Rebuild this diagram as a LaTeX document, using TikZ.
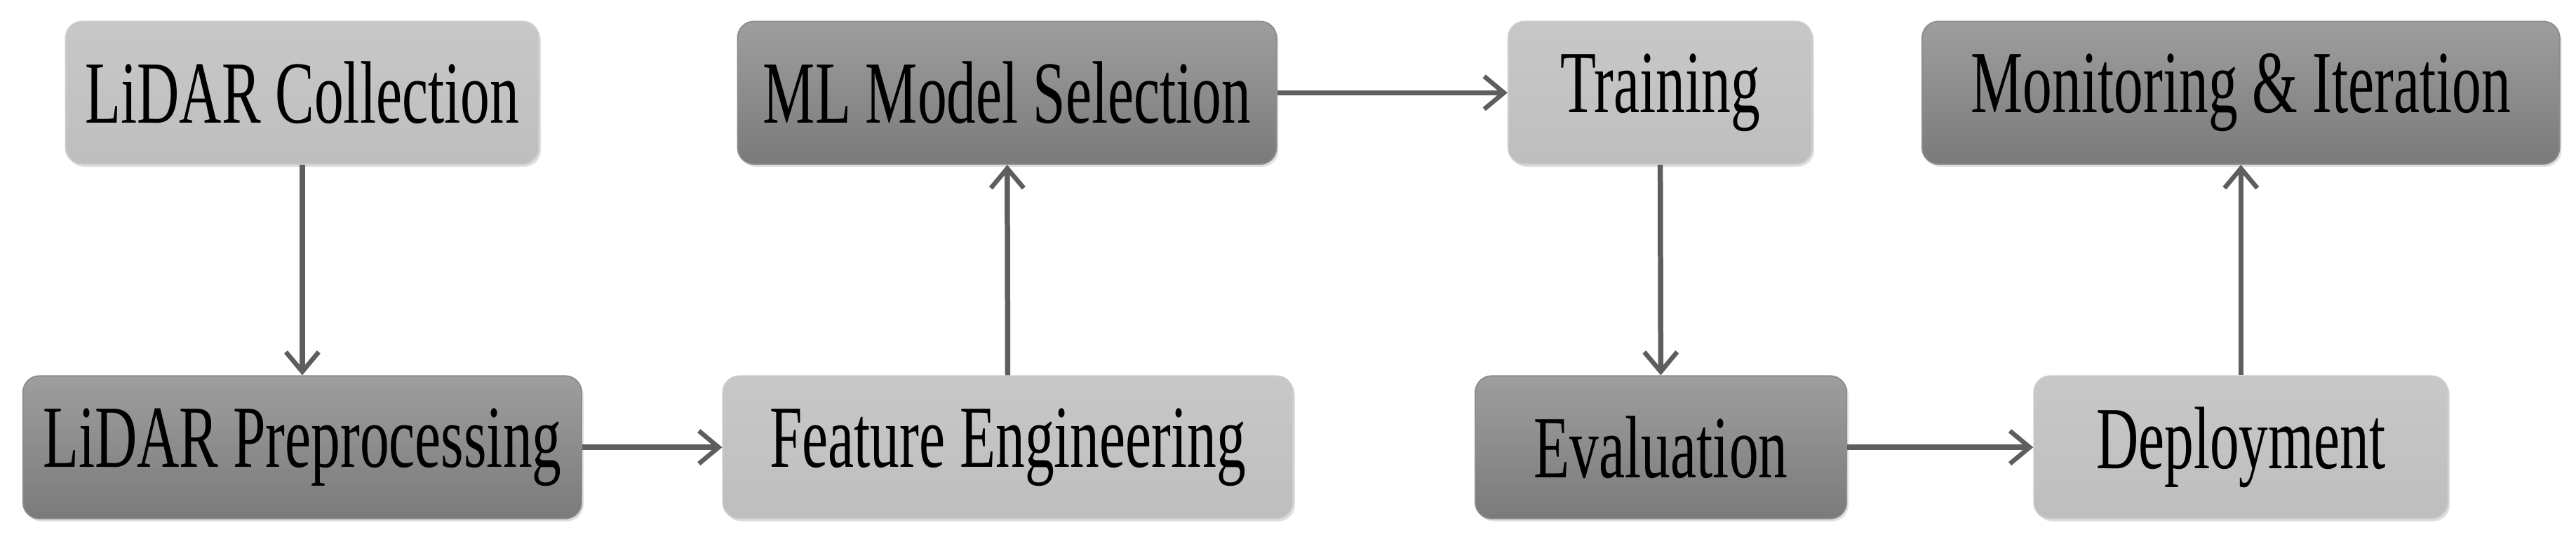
\documentclass[tikz,border=0pt]{standalone}
\usepackage{fontspec}
\setmainfont{Liberation Serif}[FakeStretch=0.66]
\usetikzlibrary{arrows.meta,shadows}
\definecolor{arr}{HTML}{5E5E5E}
\begin{document}
\begin{tikzpicture}[x=0.5pt,y=-0.5pt,
  box/.style={rounded corners=5pt, minimum height=43.5pt, inner sep=0pt, font=\fontsize{27}{30}\selectfont,
     drop shadow={shadow xshift=0.6pt,shadow yshift=-0.8pt,opacity=0.25}},
  light/.style={box, top color=gray!35!white!95!black, bottom color=gray!38!white!92!black, draw=gray!40},
  dark/.style={box, top color=black!38, bottom color=black!52, draw=black!45},
  ar/.style={draw=arr, line width=1.6pt, -{Straight Barb[length=6pt,width=10pt,line width=1.4pt]}}]
\useasboundingbox (0,0) rectangle (1568,328);
\node[light, minimum width=144pt] (col) at (184,56.5) {LiDAR Collection};
\node[dark, minimum width=164pt] (ml) at (613,56.5) {ML Model Selection};
\node[light, minimum width=92.5pt] (tr) at (1010.5,56.5) {Training};
\node[dark, minimum width=194pt] (mon) at (1364,56.5) {Monitoring \& Iteration};
\node[dark, minimum width=170pt] (pre) at (184,272.5) {LiDAR Preprocessing};
\node[light, minimum width=173.5pt] (fe) at (613.5,272.5) {Feature Engineering};
\node[dark, minimum width=113pt] (ev) at (1011,272.5) {Evaluation};
\node[light, minimum width=126pt] (dep) at (1364,272.5) {Deployment};
\draw[ar] (col) -- (pre);
\draw[ar] (pre) -- (fe);
\draw[ar] (fe) -- (ml);
\draw[ar] (ml) -- (tr);
\draw[ar] (tr) -- (ev);
\draw[ar] (ev) -- (dep);
\draw[ar] (dep) -- (mon);
\end{tikzpicture}
\end{document}
